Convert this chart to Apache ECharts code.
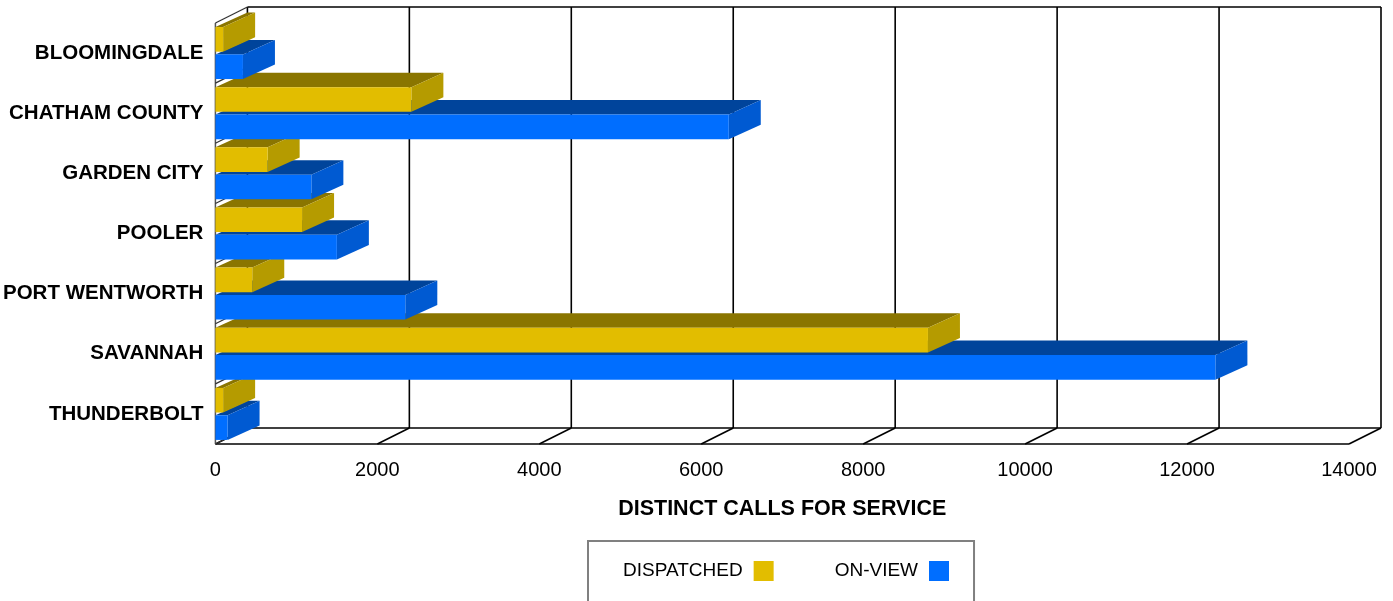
<!DOCTYPE html>
<html><head><meta charset="utf-8">
<script src="https://cdn.jsdelivr.net/npm/echarts@6/dist/echarts.min.js"></script>
<style>html,body{margin:0;padding:0;background:#fff}#c{width:1393px;height:601px}</style>
</head><body><div id="c"></div>
<script>
const categories = ['BLOOMINGDALE','CHATHAM COUNTY','GARDEN CITY','POOLER','PORT WENTWORTH','SAVANNAH','THUNDERBOLT'];
const dispatched = [95, 2420, 645, 1070, 455, 8800, 95];
const onView = [340, 6340, 1185, 1500, 2345, 12350, 150];
const xTicks = [0, 2000, 4000, 6000, 8000, 10000, 12000, 14000];
const seriesNames = ['DISPATCHED', 'ON-VIEW'];

const FONT = "'Liberation Sans', Arial, Helvetica, sans-serif";
const WALL_DX = 32, WALL_DY = -16;
const BAR_DX = 32, BAR_DY = -14.5;
const COLORS = [
  {front: '#E2BD00', top: '#8A7500', side: '#B59B00'},
  {front: '#006EFF', top: '#00449B', side: '#005AD2'}
];

function barRenderer(kind) {
  const c = COLORS[kind];
  return function (params, api) {
    const ci = api.value(0), v = api.value(1);
    const p0 = api.coord([0, ci]);
    const p1 = api.coord([v, ci]);
    const band = api.size([0, 1])[1];
    const bandTop = p0[1] - band / 2;
    const h = band * 0.41;
    const y0 = bandTop + band * (kind === 0 ? 0.067 : 0.522);
    const x0 = p0[0], x1 = p1[0];
    const z = (categories.length - ci) * 10 + (kind === 0 ? 5 : 0);
    return {type: 'group', children: [
      {type: 'polygon', z2: z, shape: {points: [[x0, y0], [x1, y0], [x1 + BAR_DX, y0 + BAR_DY], [x0 + BAR_DX, y0 + BAR_DY]]}, style: {fill: c.top}},
      {type: 'polygon', z2: z + 1, shape: {points: [[x1, y0], [x1 + BAR_DX, y0 + BAR_DY], [x1 + BAR_DX, y0 + h + BAR_DY], [x1, y0 + h]]}, style: {fill: c.side}},
      {type: 'rect', z2: z + 2, shape: {x: x0, y: y0, width: x1 - x0, height: h}, style: {fill: c.front}}
    ]};
  };
}

function frameRender(params, api) {
  const cs = params.coordSys;
  const v = api.value(0);
  const x = api.coord([v, 0])[0];
  const top = cs.y, bot = cs.y + cs.height;
  const ln = (a, b, col, w) => ({type: 'line', shape: {x1: a[0], y1: a[1], x2: b[0], y2: b[1]}, style: {stroke: col || '#000', lineWidth: w || 1.6}});
  const ch = [
    ln([x + WALL_DX, top + WALL_DY], [x + WALL_DX, bot + WALL_DY]),
    ln([x, bot], [x + WALL_DX, bot + WALL_DY])
  ];
  if (params.dataIndex === 0) {
    const L = cs.x, R = cs.x + cs.width;
    ch.push(ln([L + WALL_DX, top + WALL_DY], [R + WALL_DX, top + WALL_DY]));
    ch.push(ln([L + WALL_DX, bot + WALL_DY], [R + WALL_DX, bot + WALL_DY]));
    ch.push(ln([L, bot], [R, bot]));
    ch.push(ln([L, top], [L, bot], '#555', 1.5));
    const band = api.size([0, 1])[1];
    for (let k = 0; k <= categories.length; k++) {
      const yb = api.coord([0, 0])[1] - band / 2 + k * band;
      ch.push(ln([L, yb], [L + WALL_DX, yb + WALL_DY], '#333', 1.2));
    }
  }
  return {type: 'group', children: ch};
}

const chart = echarts.init(document.getElementById('c'), null, {renderer: 'canvas'});
chart.setOption({
  animation: false,
  backgroundColor: '#fff',
  textStyle: {fontFamily: FONT},
  grid: {left: 215, top: 23, width: 1134, height: 421, containLabel: false},
  xAxis: {
    type: 'value', min: 0, max: 14000, interval: 2000,
    axisLine: {show: false}, axisTick: {show: false}, splitLine: {show: false},
    axisLabel: {fontSize: 20, color: '#000', fontFamily: FONT, margin: 16, formatter: v => String(v)},
    name: 'DISTINCT CALLS FOR SERVICE', nameLocation: 'middle', nameGap: 54,
    nameTextStyle: {fontSize: 21.5, fontWeight: 'bold', color: '#000', fontFamily: FONT}
  },
  yAxis: {
    type: 'category', data: categories, inverse: true,
    axisLine: {show: false}, axisTick: {show: false}, splitLine: {show: false},
    axisLabel: {fontSize: 20.5, fontWeight: 'bold', color: '#000', fontFamily: FONT, margin: 12}
  },
  legend: {
    data: seriesNames, left: 588, top: 541, orient: 'horizontal', align: 'right',
    icon: 'rect', itemWidth: 20, itemHeight: 20, itemGap: 61,
    padding: [20, 25, 40, 35], borderColor: '#808080', borderWidth: 2, backgroundColor: '#fff',
    selectedMode: false,
    textStyle: {fontSize: 19, color: '#000', fontFamily: FONT, padding: [0, 6, 0, 0]}
  },
  series: [
    {type: 'custom', name: 'frame', z: 1, silent: true, data: xTicks.map(v => [v, 0]), encode: {x: 0, y: 1}, renderItem: frameRender},
    {type: 'custom', name: seriesNames[0], z: 2, itemStyle: {color: COLORS[0].front},
     data: dispatched.map((v, i) => [i, v]), encode: {x: 1, y: 0}, renderItem: barRenderer(0)},
    {type: 'custom', name: seriesNames[1], z: 2, itemStyle: {color: COLORS[1].front},
     data: onView.map((v, i) => [i, v]), encode: {x: 1, y: 0}, renderItem: barRenderer(1)}
  ]
});
</script></body></html>
